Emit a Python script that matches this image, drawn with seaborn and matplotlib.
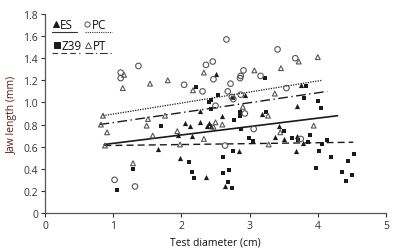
import numpy as np
import pandas as pd
import matplotlib
matplotlib.use("Agg")
import matplotlib.pyplot as plt
import seaborn as sns

# ES - filled triangles
es_x = [1.65, 1.95, 2.05, 2.13, 2.15, 1.98, 2.27, 2.37, 2.41, 2.44, 2.59, 2.36, 2.64,
        2.84, 2.51, 2.28, 2.93, 3.18, 3.70, 3.43, 3.37, 3.50, 3.69, 3.78, 3.68, 3.76]
es_y = [0.58, 0.71, 0.81, 0.79, 0.70, 0.50, 0.82, 0.79, 0.81, 0.79, 0.88, 0.33, 0.24,
        0.56, 1.26, 0.92, 1.07, 0.90, 0.97, 0.79, 0.69, 0.67, 0.70, 0.63, 0.56, 1.16]

# Z39 - filled squares
z39_x = [1.06, 1.29, 1.70, 2.11, 2.16, 2.19, 2.22, 2.43, 2.40, 2.54, 2.76, 2.43, 2.86,
         2.86, 3.24, 3.22, 3.80, 3.82, 4.00, 4.05, 2.77, 2.88, 2.99, 3.05, 2.61, 2.75,
         2.61, 2.70, 2.68, 2.74, 3.50, 3.62, 3.71, 3.85, 3.88, 4.06, 4.14, 4.02, 4.19,
         4.53, 4.44, 3.97, 4.35, 4.50, 4.42]
z39_y = [0.21, 0.40, 0.79, 0.46, 0.37, 0.32, 1.14, 1.02, 1.00, 1.07, 1.04, 0.94, 0.91,
         0.88, 0.91, 1.22, 1.04, 1.15, 1.01, 0.95, 0.84, 0.76, 0.68, 0.65, 0.51, 0.56,
         0.36, 0.39, 0.28, 0.23, 0.74, 0.68, 0.66, 0.64, 0.71, 0.62, 0.66, 0.56, 0.51,
         0.53, 0.47, 0.41, 0.37, 0.34, 0.29]

# PC - open circles
pc_x = [1.02, 1.32, 1.11, 1.11, 1.37, 2.04, 2.31, 2.36, 2.46, 2.47, 2.66, 2.72, 2.68,
        2.74, 2.87, 2.50, 2.93, 2.91, 2.87, 2.86, 3.16, 3.41, 3.67, 3.54, 3.06, 2.64,
        3.75, 2.76]
pc_y = [0.30, 0.24, 1.27, 1.22, 1.33, 1.16, 1.10, 1.34, 1.37, 1.21, 1.57, 1.17, 1.10,
        1.05, 1.07, 0.97, 0.90, 1.29, 1.24, 1.22, 1.24, 1.48, 1.40, 1.13, 0.76, 0.61,
        0.67, 1.03]

# PT - open triangles
pt_x = [0.82, 0.85, 0.91, 0.88, 1.14, 1.16, 1.29, 1.51, 1.49, 1.54, 1.80, 1.76, 1.58,
        1.94, 1.98, 2.17, 2.33, 2.33, 2.47, 2.50, 2.60, 2.90, 3.07, 3.27, 3.37, 3.46,
        3.72, 4.00, 3.94, 3.28, 3.45]
pt_y = [0.80, 0.88, 0.73, 0.61, 1.13, 1.25, 0.45, 0.85, 0.79, 1.17, 1.20, 0.88, 0.70,
        0.74, 0.62, 1.11, 1.27, 0.67, 0.78, 0.82, 0.80, 0.96, 1.29, 0.88, 1.08, 1.31,
        1.37, 1.41, 0.79, 0.62, 0.73]

# regression line end points
es_line_x, es_line_y = [0.87, 4.29], [0.62, 0.88]
pc_line_x, pc_line_y = [0.85, 4.06], [0.88, 1.20]
z39_line_x, z39_line_y = [0.87, 4.52], [0.61, 0.64]
pt_line_x, pt_line_y = [0.80, 4.14], [0.80, 1.10]

sns.set_style("ticks")
plt.rcParams['font.family'] = ['Open Sans', 'DejaVu Sans']

fig = plt.figure(figsize=(3.95, 2.51), dpi=100)
ax = fig.add_axes([45/395, 37/251, 341/395, 199/251])

dark = "#1a1a1a"
series = [
    ("ES", es_x, es_y, "^", dark, es_line_x, es_line_y, "-", 1.2),
    ("Z39", z39_x, z39_y, "s", dark, z39_line_x, z39_line_y, (0, (5, 3)), 1.0),
    ("PC", pc_x, pc_y, "o", "none", pc_line_x, pc_line_y, (0, (1, 1)), 0.9),
    ("PT", pt_x, pt_y, "^", "none", pt_line_x, pt_line_y, (0, (7, 2.5, 1, 2.5)), 1.0),
]

for name, xs, ys, mk, fc, lx, ly, ls, lw in series:
    df = pd.DataFrame({"x": xs, "y": ys})
    if fc == "none":
        size = 16 if mk == "o" else 12
        ax.scatter(df["x"], df["y"], marker=mk, s=size, facecolors="none",
                   edgecolors="#555555", linewidths=0.8, zorder=3)
    else:
        size = 14 if mk == "^" else 11
        sns.scatterplot(data=df, x="x", y="y", marker=mk, s=size, color=fc,
                        edgecolor=fc, linewidth=0, ax=ax, zorder=3)
    sns.lineplot(x=lx, y=ly, ax=ax, color=dark, linestyle=ls, linewidth=lw, zorder=2)

ax.set_xlim(0, 5)
ax.set_ylim(0, 1.8)
ax.set_xticks([0, 1, 2, 3, 4, 5])
ax.set_yticks(np.arange(0, 1.81, 0.2))
ax.set_yticklabels(["0", "0.2", "0.4", "0.6", "0.8", "1.0", "1.2", "1.4", "1.6", "1.8"])
ax.tick_params(axis="both", labelsize=7.5, colors="#333333", length=3, width=0.8, pad=2)
for s in ["left", "bottom"]:
    ax.spines[s].set_color("#555555")
    ax.spines[s].set_linewidth(0.9)
sns.despine(ax=ax)

ax.set_xlabel("Test diameter (cm)", fontsize=7.5, color="#111111", labelpad=4)
ax.set_ylabel("Jaw length (mm)", fontsize=7.5, color="#5a1e14", labelpad=4)

# legend drawn by hand: marker + label, style line underneath
leg = [
    ("ES", "^", dark, "-", 0.032, 0.948, 0.020, 0.095),
    ("PC", "o", "none", (0, (1, 1)), 0.123, 0.948, 0.117, 0.196),
    ("Z39", "s", dark, (0, (5, 3)), 0.035, 0.843, 0.020, 0.103),
    ("PT", "^", "none", (0, (7, 2.5, 1, 2.5)), 0.126, 0.843, 0.117, 0.196),
]
for name, mk, fc, ls, mx, my, l0, l1 in leg:
    ax.plot([mx], [my], marker=mk, markersize=3.8, markerfacecolor=fc,
            markeredgecolor=dark if fc != "none" else "#555555", markeredgewidth=0.7,
            linestyle="none", transform=ax.transAxes, clip_on=False)
    ax.text(mx + 0.013, my, name, fontsize=8.5, color="#111111", va="center",
            ha="left", transform=ax.transAxes)
    ax.plot([l0, l1], [my - 0.04, my - 0.04], color="#333333", linestyle=ls,
            linewidth=0.8, transform=ax.transAxes, clip_on=False)

fig.savefig("out.png", dpi=100)
